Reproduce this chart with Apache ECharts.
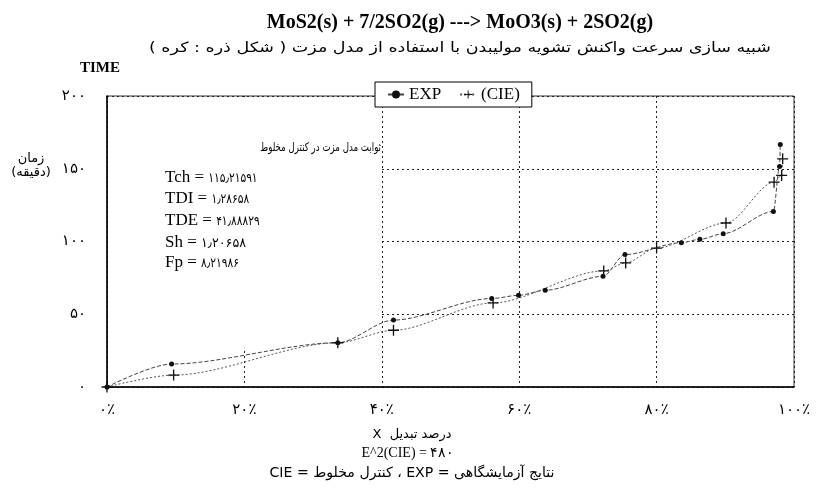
<!DOCTYPE html>
<html><head><meta charset="utf-8">
<script src="https://cdn.jsdelivr.net/npm/echarts@6/dist/echarts.min.js"></script>
<style>html,body{margin:0;padding:0;background:#fff}#c{width:817px;height:493px}</style>
</head><body><div id="c"></div>
<script>
// Experimental (EXP) points: conversion X (%) and time (min)
const expX = [0, 9.4, 33.6, 41.7, 56.0, 59.9, 63.8, 72.2, 75.4, 83.6, 86.3, 89.7, 97.0, 97.9, 98.0];
const expT = [0, 15.8, 30.4, 46.0, 60.8, 63.0, 66.5, 76.1, 91.0, 99.2, 101.5, 105.4, 120.7, 151.6, 166.7];
// Model (CIE) points
const cieX = [0, 9.7, 33.6, 41.7, 56.2, 72.3, 75.5, 80.0, 90.1, 97.1, 98.2, 98.35];
const cieT = [0, 8.2, 30.4, 39.0, 57.8, 79.8, 85.3, 95.5, 112.7, 140.8, 145.4, 156.8];
// Tick labels
const xTickLabels = ['۰٪', '۲۰٪', '۴۰٪', '۶۰٪', '۸۰٪', '۱۰۰٪'];
const yTickLabels = ['۰', '۵۰', '۱۰۰', '۱۵۰', '۲۰۰'];
// Model constants
const paramNames = ['Tch', 'TDI', 'TDE', 'Sh', 'Fp'];
const paramValues = ['۱۱۵٫۲۱۵۹۱', '۱٫۲۸۶۵۸', '۴۱٫۸۸۸۲۹', '۱٫۲۰۶۵۸', '۸٫۲۱۹۸۶'];

const RTL = s => '\u202B' + s + '\u202C';
const serif = '"Liberation Serif", "Times New Roman", serif';
const fa = '"DejaVu Sans", sans-serif';

const mctx = document.createElement('canvas').getContext('2d');
function fit(text, font, target) {
  mctx.font = font;
  return target / mctx.measureText(text).width;
}

const chart = echarts.init(document.getElementById('c'));
const plusPath = 'path://M4.4,0H5.6V4.4H10V5.6H5.6V10H4.4V5.6H0V4.4H4.4Z';

chart.setOption({
  animation: false,
  backgroundColor: '#fff',
  title: [
    {text: 'MoS2(s) + 7/2SO2(g) ---> MoO3(s) + 2SO2(g)', left: 455, top: 8, textAlign: 'center',
     textStyle: {fontFamily: serif, fontWeight: 'bold', fontSize: 20, color: '#000'}}
  ],
  legend: {
    left: 375, top: 82, orient: 'horizontal',
    backgroundColor: '#fff', borderColor: '#000', borderWidth: 1, padding: [4, 12],
    itemGap: 18, itemWidth: 16, itemHeight: 10,
    textStyle: {fontFamily: serif, fontSize: 17, color: '#000'},
    data: ['EXP', '(CIE)']
  },
  grid: {left: 107, right: 23, top: 96, bottom: 106, show: true, borderColor: '#333', borderWidth: 1},
  xAxis: {
    type: 'value', min: 0, max: 100, interval: 20,
    axisLine: {show: true, lineStyle: {color: '#000', width: 1.5}},
    axisTick: {show: false},
    splitLine: {show: true, lineStyle: {type: [2, 3], color: '#222', width: 1}},
    axisLabel: {margin: 16, fontSize: 15, fontFamily: fa, color: '#000',
      formatter: v => xTickLabels[Math.round(v / 20)]}
  },
  yAxis: {
    type: 'value', min: 0, max: 200, interval: 50,
    axisLine: {show: true, lineStyle: {color: '#000', width: 1.5}},
    axisTick: {show: false},
    splitLine: {show: true, lineStyle: {type: [2, 3], color: '#222', width: 1}},
    axisLabel: {margin: 21, fontSize: 15, fontFamily: fa, color: '#000',
      formatter: v => yTickLabels[Math.round(v / 50)]}
  },
  series: [
    {name: 'EXP', type: 'line', smooth: 0.3, smoothMonotone: 'x',
     data: expX.map((x, i) => [x, expT[i]]),
     symbol: 'circle', symbolSize: 5,
     itemStyle: {color: '#111'},
     lineStyle: {color: '#444', width: 1, type: [4, 2]}, z: 3},
    {name: '(CIE)', type: 'line', smooth: 0.3, smoothMonotone: 'x',
     data: cieX.map((x, i) => [x, cieT[i]]),
     symbol: plusPath, symbolSize: 11,
     itemStyle: {color: '#111'},
     lineStyle: {color: '#555', width: 1, type: [2, 2]}, z: 3}
  ]
});

// Annotation box and texts
const p0 = chart.convertToPixel({gridIndex: 0}, [0, 200]);
const p1 = chart.convertToPixel({gridIndex: 0}, [39.8, 27]);

const subT = RTL('شبیه سازی سرعت واکنش تشویه مولیبدن با استفاده از مدل مزت ( شکل ذره : کره )');
const subF = '14px ' + fa;
const hdrT = RTL('ثوابت مدل مزت در کنترل مخلوط');
const hdrF = '12px ' + fa;
const botT = RTL('نتایج آزمایشگاهی = EXP ، کنترل مخلوط = CIE');
const botF = '14px ' + fa;

const g = [
  {type: 'rect', shape: {x: p0[0] + 1, y: p0[1] + 1, width: p1[0] - p0[0] - 1, height: p1[1] - p0[1] - 1},
   style: {fill: '#fff'}, z: 1, silent: true},
  {type: 'text', x: 460, y: 48, z: 5, scaleX: fit(subT, subF, 622),
   style: {text: subT, align: 'center', verticalAlign: 'middle', font: subF, fill: '#000'}},
  {type: 'text', x: 381, y: 148, z: 5, scaleX: Math.max(0.72, fit(hdrT, hdrF, 120)),
   style: {text: hdrT, align: 'right', verticalAlign: 'middle', font: hdrF, fill: '#000'}},
  {type: 'text', left: 80, top: 61, z: 5,
   style: {text: 'TIME', font: 'bold 15px ' + serif, fill: '#000'}},
  {type: 'text', x: 31, y: 166, z: 5,
   style: {text: RTL('زمان') + '\n' + RTL('(دقیقه)'), align: 'center', verticalAlign: 'middle', lineHeight: 14,
     font: '13px ' + fa, fill: '#000'}},
  {type: 'text', x: 412, y: 435, z: 5,
   style: {text: 'X  درصد تبدیل', align: 'center', verticalAlign: 'middle',
     font: '13px ' + fa, fill: '#000'}},
  {type: 'text', x: 408, y: 453, z: 5,
   style: {text: 'E^2(CIE) = ۴۸۰', align: 'center', verticalAlign: 'middle',
     font: '14px ' + serif, fill: '#000'}},
  {type: 'text', x: 412, y: 473, z: 5, scaleX: fit(botT, botF, 285),
   style: {text: botT, align: 'center', verticalAlign: 'middle', font: botF, fill: '#000'}}
];
const lineY = [178, 199, 221, 243, 263];
const lineW = [92, 68, 90, 81, 70];
paramNames.forEach((n, i) => {
  const nameF = '17px ' + serif, valF = '13px ' + fa;
  mctx.font = nameF; const wn = mctx.measureText(n + ' = ').width;
  mctx.font = valF; const wv = mctx.measureText(paramValues[i]).width;
  const sv = Math.max(0.82, Math.min(1, (lineW[i] - wn) / wv));
  g.push({type: 'text', x: 165, y: lineY[i], z: 5,
    style: {text: n + ' = ', align: 'left', verticalAlign: 'middle', font: nameF, fill: '#000'}});
  g.push({type: 'text', x: 165 + wn, y: lineY[i] + 1, z: 5, scaleX: sv,
    style: {text: paramValues[i], align: 'left', verticalAlign: 'middle', font: valF, fill: '#000'}});
});
chart.setOption({graphic: g});
</script></body></html>
